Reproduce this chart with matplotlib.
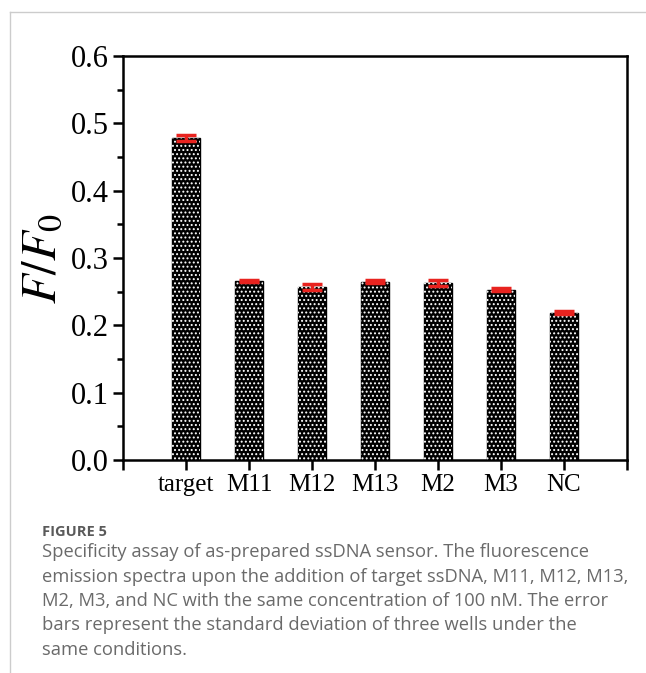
import matplotlib
matplotlib.use("Agg")
import matplotlib.pyplot as plt
from matplotlib.lines import Line2D
from matplotlib.ticker import MultipleLocator, FormatStrFormatter

categories = ["target", "M11", "M12", "M13", "M2", "M3", "NC"]
values = [0.478, 0.266, 0.257, 0.265, 0.263, 0.253, 0.219]
errors = [0.004, 0.002, 0.004, 0.002, 0.004, 0.002, 0.002]

caption_title = "FIGURE 5"
caption_lines = [
    "Specificity assay of as-prepared ssDNA sensor. The fluorescence",
    "emission spectra upon the addition of target ssDNA, M11, M12, M13,",
    "M2, M3, and NC with the same concentration of 100 nM. The error",
    "bars represent the standard deviation of three wells under the",
    "same conditions.",
]

plt.rcParams["mathtext.fontset"] = "stix"
plt.rcParams["hatch.linewidth"] = 0.9

W, H = 646, 673
fig = plt.figure(figsize=(W / 100, H / 100), dpi=100)

ax = fig.add_axes([123 / W, 1 - 460 / H, (627 - 123) / W, (460 - 56) / H])
x = list(range(1, len(categories) + 1))
ax.bar(x, values, width=0.45, color="black", edgecolor="black", linewidth=1.0, zorder=2)
ax.bar(x, values, width=0.45, facecolor="none", edgecolor="white", hatch="....",
       linewidth=0, zorder=3)
ax.errorbar(x, values, yerr=errors, fmt="none", ecolor="#e8231f", elinewidth=2.5,
            capsize=7, capthick=2.5, zorder=4)

ax.set_xlim(0, 8)
ax.set_ylim(0, 0.6)
ax.set_xticks([0] + x + [8])
ax.set_xticklabels([""] + categories + [""], fontfamily="Liberation Serif", fontsize=18)
ax.yaxis.set_major_locator(MultipleLocator(0.1))
ax.yaxis.set_minor_locator(MultipleLocator(0.05))
ax.yaxis.set_major_formatter(FormatStrFormatter("%.1f"))
for lab in ax.get_yticklabels():
    lab.set_fontfamily("Liberation Serif")
    lab.set_fontsize(22)
ax.tick_params(axis="both", which="major", direction="out", length=7, width=1.8, pad=3)
ax.tick_params(axis="y", which="minor", direction="out", length=4.5, width=1.8)
ax.tick_params(axis="x", which="minor", length=0)
for s in ax.spines.values():
    s.set_linewidth(1.8)
ax.set_ylabel(r"$\mathit{F/F}_{\mathit{0}}$", fontsize=35, labelpad=4)

# page frame lines
fig.add_artist(Line2D([10 / W, 1], [1 - 12 / H, 1 - 12 / H], color="#cccccc", lw=1,
                      transform=fig.transFigure))
fig.add_artist(Line2D([10 / W, 10 / W], [0, 1 - 12 / H], color="#cccccc", lw=1,
                      transform=fig.transFigure))

fig.text(42 / W, 1 - 536 / H, caption_title, fontfamily="Open Sans", fontweight="bold",
         fontsize=10.5, color="#5a5a5a", va="baseline")
for i, line in enumerate(caption_lines):
    fig.text(42 / W, 1 - (557 + 24.5 * i) / H, line, fontfamily="Open Sans",
             fontsize=13.2, color="#6a6a6a", va="baseline")

fig.savefig("out.png", dpi=100)
